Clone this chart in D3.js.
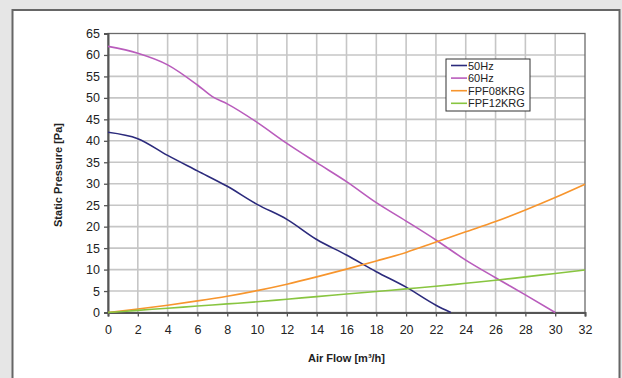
<!DOCTYPE html>
<html>
<head>
<meta charset="utf-8">
<script src="https://cdn.jsdelivr.net/npm/d3@7"></script>
<style>
  body { margin: 0; background: #e6e6e6; }
  svg { display: block; font-family: "Liberation Sans", Arial, sans-serif; }
</style>
</head>
<body>
<div id="chart"></div>
<script>
// chart data
var flow50 = [0, 2, 4, 6, 8, 10, 12, 14, 16, 18, 20, 22, 23];
var pres50 = [42, 40.5, 36.6, 33, 29.4, 25.2, 21.7, 17, 13.4, 9.5, 5.9, 1.7, 0];

var flow60 = [0, 2, 4, 6, 7, 8, 10, 12, 14, 16, 18, 20, 22, 24, 26, 28, 30];
var pres60 = [62, 60.4, 57.7, 53, 50.3, 48.6, 44.3, 39.4, 34.9, 30.5, 25.6, 21.3, 16.9, 12.2, 8.1, 4.1, 0];

var flowSys = [0, 2, 4, 6, 8, 10, 12, 14, 16, 18, 20, 22, 24, 26, 28, 30, 32];
var presFPF08 = [0, 0.8, 1.7, 2.7, 3.8, 5.1, 6.6, 8.3, 10.1, 12.0, 14.0, 16.4, 18.8, 21.2, 23.9, 26.8, 29.9];
var presFPF12 = [0, 0.5, 1.0, 1.5, 2.0, 2.5, 3.1, 3.7, 4.3, 4.9, 5.5, 6.1, 6.8, 7.5, 8.3, 9.1, 9.9];

var seriesNames = ["50Hz", "60Hz", "FPF08KRG", "FPF12KRG"];
var seriesColors = ["#2b2a7c", "#b95cbc", "#f7952d", "#88c540"];

var xTicks = d3.range(0, 33, 2);
var yTicks = d3.range(0, 66, 5);

var svgWidth = 622;
var svgHeight = 378;

var margin = { top: 33.5, right: 37, bottom: 65.5, left: 108 };
var width = svgWidth - margin.left - margin.right;
var height = svgHeight - margin.top - margin.bottom;

var svg = d3.select("#chart")
  .append("svg")
  .attr("width", svgWidth)
  .attr("height", svgHeight);

// grey header and white panel
svg.append("rect")
  .attr("x", 0).attr("y", 0)
  .attr("width", svgWidth).attr("height", svgHeight)
  .attr("fill", "#e6e6e6");
svg.append("rect")
  .attr("x", 12.5).attr("y", 10)
  .attr("width", 607).attr("height", 380)
  .attr("fill", "#fff")
  .attr("stroke", "#666")
  .attr("stroke-width", 2);

var chartGroup = svg.append("g")
  .attr("transform", `translate(${margin.left}, ${margin.top})`);

var x = d3.scaleLinear().domain([0, 32]).range([0, width]);
var y = d3.scaleLinear().domain([0, 65]).range([height, 0]);

// gridlines
chartGroup.append("g")
  .selectAll("line")
  .data(xTicks.slice(1, -1))
  .enter()
  .append("line")
  .attr("x1", d => x(d)).attr("x2", d => x(d))
  .attr("y1", 0).attr("y2", height)
  .attr("stroke", "#c6c6c6")
  .attr("stroke-width", 1.6);

chartGroup.append("g")
  .selectAll("line")
  .data(yTicks.slice(1, -1))
  .enter()
  .append("line")
  .attr("x1", 0).attr("x2", width)
  .attr("y1", d => y(d)).attr("y2", d => y(d))
  .attr("stroke", "#c6c6c6")
  .attr("stroke-width", 1.6);

// plot frame
chartGroup.append("rect")
  .attr("x", 0).attr("y", 0)
  .attr("width", width).attr("height", height)
  .attr("fill", "none")
  .attr("stroke", "#6a6a6a")
  .attr("stroke-width", 1.3);

// axes
var bottomAxis = d3.axisBottom(x).tickValues(xTicks).tickSize(4).tickPadding(9);
var leftAxis = d3.axisLeft(y).tickValues(yTicks).tickSize(4).tickPadding(4);

var xAxis = chartGroup.append("g")
  .attr("transform", `translate(0, ${height})`)
  .call(bottomAxis);
var yAxis = chartGroup.append("g")
  .call(leftAxis);

[xAxis, yAxis].forEach(function(ax) {
  ax.select(".domain").attr("stroke", "#555").attr("stroke-width", 2);
  ax.selectAll(".tick line").attr("stroke", "#555").attr("stroke-width", 1.3);
  ax.selectAll(".tick text")
    .attr("fill", "#222")
    .style("font-size", "12.5px")
    .style("font-family", "Liberation Sans, Arial, sans-serif");
});

// lines
var line = d3.line()
  .x(d => x(d[0]))
  .y(d => y(d[1]))
  .curve(d3.curveMonotoneX);

var seriesData = [
  d3.zip(flow50, pres50),
  d3.zip(flow60, pres60),
  d3.zip(flowSys, presFPF08),
  d3.zip(flowSys, presFPF12)
];

chartGroup.selectAll(".series")
  .data(seriesData)
  .enter()
  .append("path")
  .attr("class", "series")
  .attr("d", line)
  .attr("fill", "none")
  .attr("stroke", (d, i) => seriesColors[i])
  .attr("stroke-width", 1.6);

// axis titles
svg.append("text")
  .attr("transform", "rotate(-90)")
  .attr("x", -175)
  .attr("y", 62)
  .attr("text-anchor", "middle")
  .style("font-size", "11px")
  .style("font-weight", "bold")
  .attr("fill", "#222")
  .text("Static Pressure [Pa]");

svg.append("text")
  .attr("x", margin.left + width / 2)
  .attr("y", 362)
  .attr("text-anchor", "middle")
  .style("font-size", "11px")
  .style("font-weight", "bold")
  .attr("fill", "#222")
  .text("Air Flow [m³/h]");

// legend
var legend = svg.append("g")
  .attr("transform", "translate(446, 59)");

legend.append("rect")
  .attr("x", 0).attr("y", 0)
  .attr("width", 84).attr("height", 52)
  .attr("fill", "#fff")
  .attr("stroke", "#333")
  .attr("stroke-width", 1);

var items = legend.selectAll(".item")
  .data(seriesNames)
  .enter()
  .append("g")
  .attr("transform", (d, i) => `translate(5, ${6.5 + i * 12.6})`);

items.append("line")
  .attr("x1", 0).attr("x2", 16)
  .attr("stroke", (d, i) => seriesColors[i])
  .attr("stroke-width", 1.6);

items.append("text")
  .attr("x", 17)
  .attr("y", 4)
  .style("font-size", "11px")
  .attr("fill", "#222")
  .text(d => d);
</script>
</body>
</html>
